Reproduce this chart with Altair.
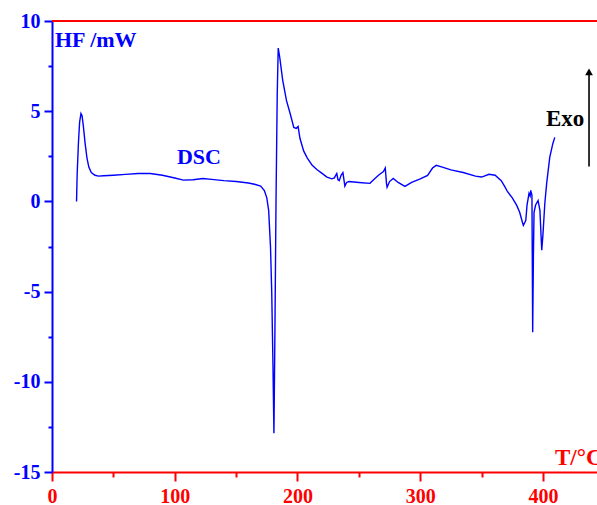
import altair as alt
import pandas as pd

# DSC trace (temperature in °C, heat flow in mW)
temp = [20, 20.5, 21.5, 22.5, 23.6, 24.5, 25.5, 27, 28.5, 30, 32, 35, 38, 42, 50, 60, 70, 80, 90,
        100, 107, 115, 123, 130, 140, 150, 160, 165, 170, 173, 175, 176.5, 178, 179, 180, 180.8,
        181.5, 182.5, 183.5, 184.3, 185.5, 188, 191, 194, 197, 199, 200.5, 202, 205, 208, 212,
        216, 220, 224, 228, 230, 232, 233, 234, 235.5, 237, 238.6, 240, 242, 250, 259, 262, 266,
        270, 271.5, 272.5, 273, 275, 278, 282, 287.5, 293, 300, 306, 310, 313, 318, 325, 335,
        345, 350, 356, 361, 366, 369, 371, 375, 378.6, 381, 383, 384, 385, 386, 387, 388.6,
        389.5, 390, 391, 391.6, 392.2, 392.7, 394, 396, 397.5, 398.5, 399, 400, 401.5, 403,
        405.5, 408, 409.6]
hf = [0.0, 1.5, 3.2, 4.4, 4.87, 4.75, 4.2, 3.2, 2.4, 1.9, 1.6, 1.45, 1.4, 1.42, 1.45, 1.5, 1.55,
      1.55, 1.45, 1.3, 1.18, 1.2, 1.27, 1.22, 1.15, 1.1, 1.02, 0.95, 0.85, 0.6, 0.2, -0.5, -2.5,
      -5, -9, -12.85, -8, 0, 6, 8.5, 8.0, 6.7, 5.6, 4.87, 4.1, 4.05, 4.15, 3.5, 2.8, 2.4, 2.0,
      1.75, 1.55, 1.35, 1.25, 1.3, 1.55, 1.2, 1.15, 1.45, 1.6, 0.85, 1.05, 1.1, 1.05, 1.0, 1.2,
      1.45, 1.65, 1.85, 1.0, 0.78, 1.1, 1.27, 1.05, 0.83, 1.05, 1.25, 1.44, 1.85, 2.0, 1.9,
      1.75, 1.6, 1.4, 1.35, 1.5, 1.45, 1.15, 0.8, 0.55, 0.2, -0.22, -0.6, -1.1, -1.33, -1.2,
      -1.05, -0.2, 0.44, 0.3, 0.61, 0.33, -7.25, -3, -0.61, -0.2, 0.05, -0.5, -2.0, -2.7, -1.8,
      -0.1, 1.0, 2.44, 3.2, 3.55]

x_ticks = [0, 50, 100, 150, 200, 250, 300, 350, 400]
y_ticks = [-15, -12.5, -10, -7.5, -5, -2.5, 0, 2.5, 5, 7.5, 10]

ann_text = ["HF /mW", "DSC", "Exo", "T/°C"]
ann_x = [2.4, 101.8, 402.4, 409.8]
ann_y = [8.54, 2.1, 4.2, -14.63]
ann_color = ["#0000ff", "#0000ff", "#000000", "#ff0000"]
ann_size = [22, 22, 23, 23]

arrow_x = [437.5]
arrow_y0 = [1.94]
arrow_y1 = [7.0]
arrow_tip = [7.18]

df = pd.DataFrame({"T": temp, "HF": hf, "i": range(len(temp))})
ann = pd.DataFrame({"t": ann_text, "x": ann_x, "y": ann_y, "c": ann_color, "s": ann_size})
arr = pd.DataFrame({"x": arrow_x, "y0": arrow_y0, "y1": arrow_y1, "tip": arrow_tip})

FONT = "Liberation Serif"
xscale = alt.Scale(domain=[0, 444], nice=False, zero=False)
yscale = alt.Scale(domain=[-15, 10], nice=False, zero=False)

xaxis = alt.Axis(
    values=x_ticks, orient="bottom", title=None, grid=False,
    domainColor="#ff0000", domainWidth=2, tickColor="#ff0000", tickWidth=2,
    tickSize={"condition": {"test": "datum.value % 100 === 0", "value": 9}, "value": 5},
    labelExpr="datum.value % 100 === 0 ? '' + datum.value : ''",
    labelColor="#ff0000", labelFont=FONT, labelFontWeight="bold", labelFontSize=20,
    labelPadding=5, labelFlush=False, labelOverlap=False,
)
yaxis = alt.Axis(
    values=y_ticks, orient="left", title=None, grid=False,
    domainColor="#0000ff", domainWidth=2, tickColor="#0000ff", tickWidth=2,
    tickSize={"condition": {"test": "datum.value % 5 === 0", "value": 8}, "value": 4},
    labelExpr="datum.value % 5 === 0 ? '' + datum.value : ''",
    labelColor="#0000ff", labelFont=FONT, labelFontWeight="bold", labelFontSize=20,
    labelPadding=4, labelFlush=False, labelOverlap=False, labelBaseline="middle",
)

line = alt.Chart(df).mark_line(color="#0000ff", strokeWidth=1.4).encode(
    x=alt.X("T:Q", scale=xscale, axis=xaxis),
    y=alt.Y("HF:Q", scale=yscale, axis=yaxis),
    order="i:Q",
)

top = alt.Chart(pd.DataFrame({"v": [10]})).mark_rule(color="#ff0000", strokeWidth=2).encode(
    y=alt.Y("v:Q", scale=yscale),
)

texts = alt.Chart(ann).mark_text(
    font=FONT, fontWeight="bold", align="left", baseline="alphabetic"
).encode(
    x=alt.X("x:Q", scale=xscale),
    y=alt.Y("y:Q", scale=yscale),
    text="t:N",
    color=alt.Color("c:N", scale=None),
    size=alt.Size("s:Q", scale=None),
)

arrow_line = alt.Chart(arr).mark_rule(color="black", strokeWidth=1.6).encode(
    x=alt.X("x:Q", scale=xscale),
    y=alt.Y("y0:Q", scale=yscale),
    y2="y1:Q",
)
arrow_head = alt.Chart(arr).mark_point(
    shape="triangle-up", filled=True, color="black", size=60, opacity=1, strokeWidth=0
).encode(
    x=alt.X("x:Q", scale=xscale),
    y=alt.Y("tip:Q", scale=yscale),
)

chart = alt.layer(line, top, texts, arrow_line, arrow_head).properties(
    width=545, height=451,
    padding={"left": 52, "top": 21, "right": 0, "bottom": 33},
    autosize=alt.AutoSizeParams(type="none"),
    background="white",
).configure_view(stroke="transparent")

chart.save("out.html", embed_options={"renderer": "svg", "actions": False})
